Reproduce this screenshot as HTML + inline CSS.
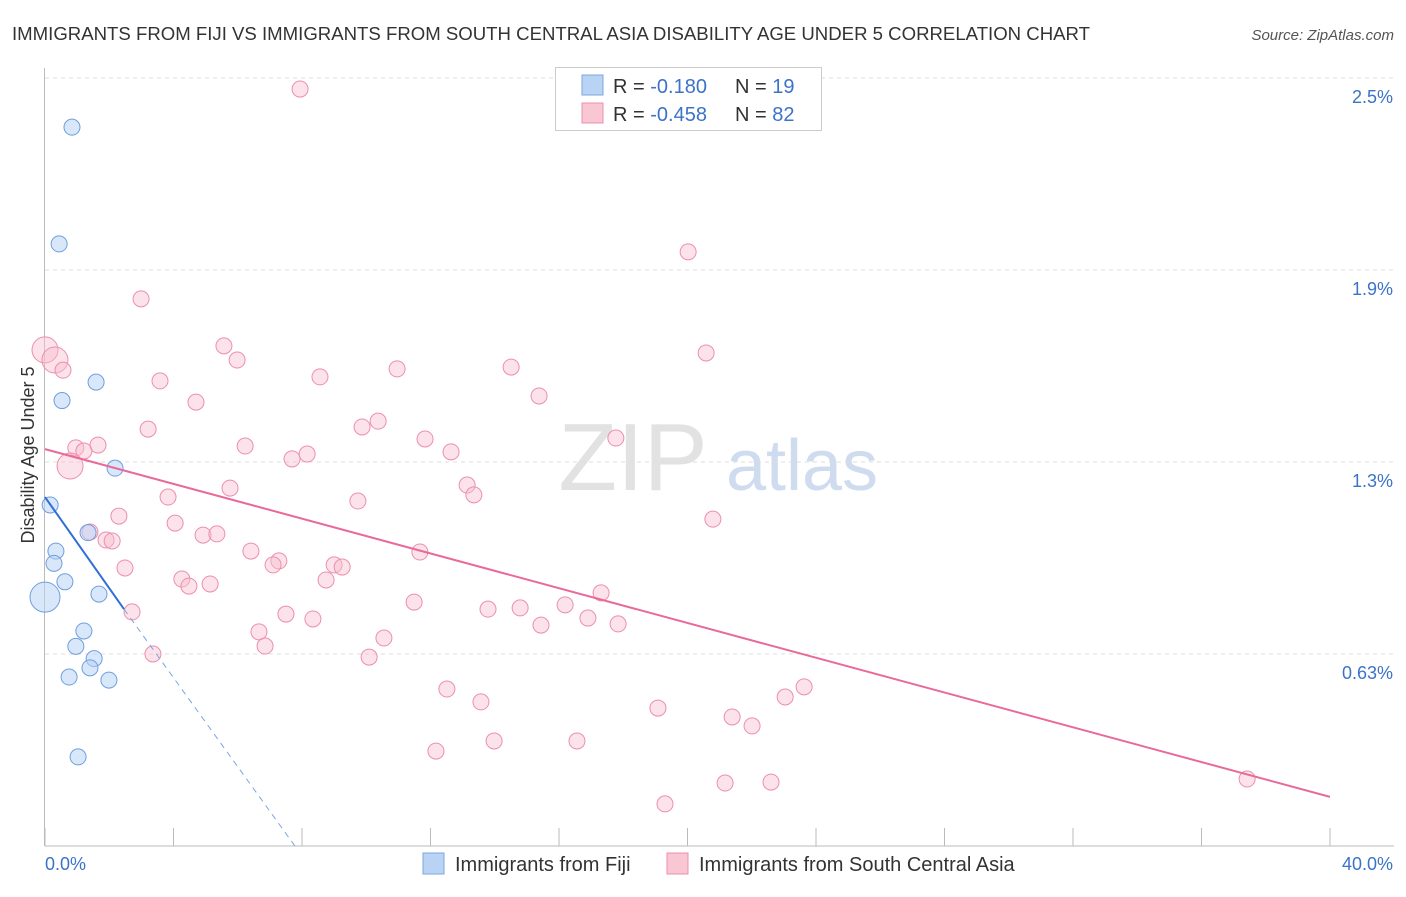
<!DOCTYPE html>
<html><head><meta charset="utf-8">
<style>
body{margin:0;background:#fff;font-family:"Liberation Sans",sans-serif;}
svg text{font-family:"Liberation Sans",sans-serif;}
</style></head>
<body>
<svg id="chart" width="1406" height="892" viewBox="0 0 1406 892" xmlns="http://www.w3.org/2000/svg">
<text x="12" y="40" font-size="18" fill="#333" textLength="1078" lengthAdjust="spacingAndGlyphs">IMMIGRANTS FROM FIJI VS IMMIGRANTS FROM SOUTH CENTRAL ASIA DISABILITY AGE UNDER 5 CORRELATION CHART</text>
<text x="1394" y="40" font-size="15" fill="#555" font-style="italic" text-anchor="end">Source: ZipAtlas.com</text>
<text x="34" y="455" font-size="18" fill="#333" text-anchor="middle" transform="rotate(-90 34 455)">Disability Age Under 5</text>
<g>
<text x="633" y="490" font-size="96" fill="#e2e2e2" font-family="Liberation Serif" text-anchor="middle">ZIP</text>
<text x="802" y="490" font-size="72" fill="#cfdcef" text-anchor="middle">atlas</text>
</g>
<g id="grid"></g>
<g id="axes"></g>
<g id="marks"></g>
<g>
<rect x="555.5" y="67.5" width="266" height="63" fill="#fff" stroke="#ccc"/>
<rect x="582" y="75" width="21" height="20" fill="#b9d3f5" stroke="#7aa7e0"/>
<rect x="582" y="103" width="21" height="20" fill="#f9c6d4" stroke="#ec8fac"/>
<text x="613" y="93" font-size="20" fill="#333">R = <tspan fill="#3b73c8">-0.180</tspan></text>
<text x="735" y="93" font-size="20" fill="#333">N = <tspan fill="#3b73c8">19</tspan></text>
<text x="613" y="121" font-size="20" fill="#333">R = <tspan fill="#3b73c8">-0.458</tspan></text>
<text x="735" y="121" font-size="20" fill="#333">N = <tspan fill="#3b73c8">82</tspan></text>
</g>
<g>
<rect x="423" y="853" width="21" height="21" fill="#b9d3f5" stroke="#7aa7e0"/>
<text x="455" y="871" font-size="20" fill="#333">Immigrants from Fiji</text>
<rect x="667" y="853" width="21" height="21" fill="#f9c6d4" stroke="#ec8fac"/>
<text x="699" y="871" font-size="20" fill="#333">Immigrants from South Central Asia</text>
</g>
</svg>
<script>
const xTicks=[0,4,8,12,16,20,24,28,32,36,40];
const yTicks=[0.625,1.25,1.875,2.5];
const yTickLabels=["0.63%","1.3%","1.9%","2.5%"];
const xEndLabels=["0.0%","40.0%"];
const fijiX=[0.84,0.44,1.59,0.53,2.18,0.16,0.34,0.28,0.62,1.34,1.68,0,1.21,0.96,1.53,1.40,0.75,1.99,1.03];
const fijiY=[2.34,1.96,1.51,1.45,1.23,1.11,0.96,0.92,0.86,1.02,0.82,0.81,0.70,0.65,0.61,0.58,0.55,0.54,0.29];
const fijiSize=[1,1,1,1,1,1,1,1,1,1,1,2,1,1,1,1,1,1,1];
const scaX=[7.94,20.02,2.99,0,0.31,0.56,5.57,5.98,20.58,3.58,8.56,10.96,14.51,4.70,15.38,3.21,10.37,9.87,0.96,1.65,1.21,6.23,11.83,17.77,12.64,8.16,7.69,0.78,13.14,13.35,5.76,3.83,9.74,2.30,20.79,4.05,1.40,4.92,5.35,1.90,2.09,6.41,11.67,7.28,7.10,9.00,9.25,2.49,4.26,4.48,5.14,8.75,17.31,11.49,16.19,13.79,14.79,2.71,7.50,8.34,16.90,15.44,17.84,6.66,10.55,6.85,3.36,10.09,12.51,23.63,23.04,13.57,19.08,21.39,22.01,12.17,13.98,16.56,21.17,22.60,19.30,37.42];
const scaY=[2.464,1.934,1.781,1.615,1.582,1.549,1.628,1.582,1.605,1.514,1.527,1.553,1.559,1.445,1.465,1.357,1.383,1.364,1.296,1.305,1.286,1.302,1.325,1.328,1.283,1.276,1.260,1.237,1.175,1.143,1.165,1.136,1.123,1.074,1.064,1.051,1.022,1.012,1.016,0.996,0.993,0.960,0.957,0.928,0.915,0.915,0.908,0.905,0.869,0.846,0.853,0.866,0.824,0.794,0.785,0.771,0.775,0.762,0.755,0.739,0.742,0.719,0.723,0.697,0.677,0.651,0.625,0.615,0.511,0.518,0.485,0.469,0.449,0.420,0.391,0.309,0.342,0.342,0.205,0.208,0.137,0.218];
const scaBig=[3,4,27];
const fijiTrend=[[0,1.136],[2.46,0.771]];
const fijiDash=[[2.46,0.771],[7.78,0]];
const scaTrend=[[0,1.292],[40,0.160]];

const NS="http://www.w3.org/2000/svg";
const X=v=>45+v*32.125, Y=v=>846-v*307.2;
function mk(tag,attrs,parent){const e=document.createElementNS(NS,tag);for(const k in attrs)e.setAttribute(k,attrs[k]);parent.appendChild(e);return e;}
const grid=document.getElementById('grid'),axes=document.getElementById('axes'),marks=document.getElementById('marks');
yTicks.forEach((t,i)=>{
 const l=mk('line',{x1:45,x2:1394,y1:Y(t),y2:Y(t),stroke:'#ddd','stroke-dasharray':'4,4'},grid);
 
 
 const tx=mk('text',{x:1393,y:Y(t)+25,'font-size':18,fill:'#3b73c8','text-anchor':'end'},axes);
 tx.textContent=yTickLabels[i];
 
 
});
const ax=mk('line',{x1:45,x2:1394,y1:846,y2:846,stroke:'#bbb'},axes);


const ay=mk('line',{x1:44.5,x2:44.5,y1:68,y2:846,stroke:'#bbb'},axes);


xTicks.forEach(t=>{
 const l=mk('line',{x1:X(t),x2:X(t),y1:828,y2:846,stroke:'#bbb'},axes);
 
 
});
const xl0=mk('text',{x:45,y:870,'font-size':18,fill:'#3b73c8'},axes);xl0.textContent=xEndLabels[0];


const xl1=mk('text',{x:1393,y:870,'font-size':18,fill:'#3b73c8','text-anchor':'end'},axes);xl1.textContent=xEndLabels[1];



scaX.forEach((v,i)=>{
 const r=scaBig.includes(i)?13:8;
 const c=mk('circle',{cx:X(v),cy:Y(scaY[i]),r:r,fill:'rgba(249,190,208,0.45)',stroke:'#ec8fac','stroke-width':1},marks);
 
 
});
fijiX.forEach((v,i)=>{
 const r=fijiSize[i]>1?15:8;
 const c=mk('circle',{cx:X(v),cy:Y(fijiY[i]),r:r,fill:'rgba(185,211,245,0.55)',stroke:'#6f9fde','stroke-width':1},marks);
 
 
});
const tl=mk('line',{x1:X(scaTrend[0][0]),y1:Y(scaTrend[0][1]),x2:X(scaTrend[1][0]),y2:Y(scaTrend[1][1]),stroke:'#e8699a','stroke-width':2},marks);


const fl=mk('line',{x1:X(fijiTrend[0][0]),y1:Y(fijiTrend[0][1]),x2:X(fijiTrend[1][0]),y2:Y(fijiTrend[1][1]),stroke:'#2f6fd6','stroke-width':2},marks);


const fd=mk('line',{x1:X(fijiDash[0][0]),y1:Y(fijiDash[0][1]),x2:X(fijiDash[1][0]),y2:Y(fijiDash[1][1]),stroke:'#7aa7e0','stroke-width':1,'stroke-dasharray':'6,5'},marks);


</script>
</body></html>
